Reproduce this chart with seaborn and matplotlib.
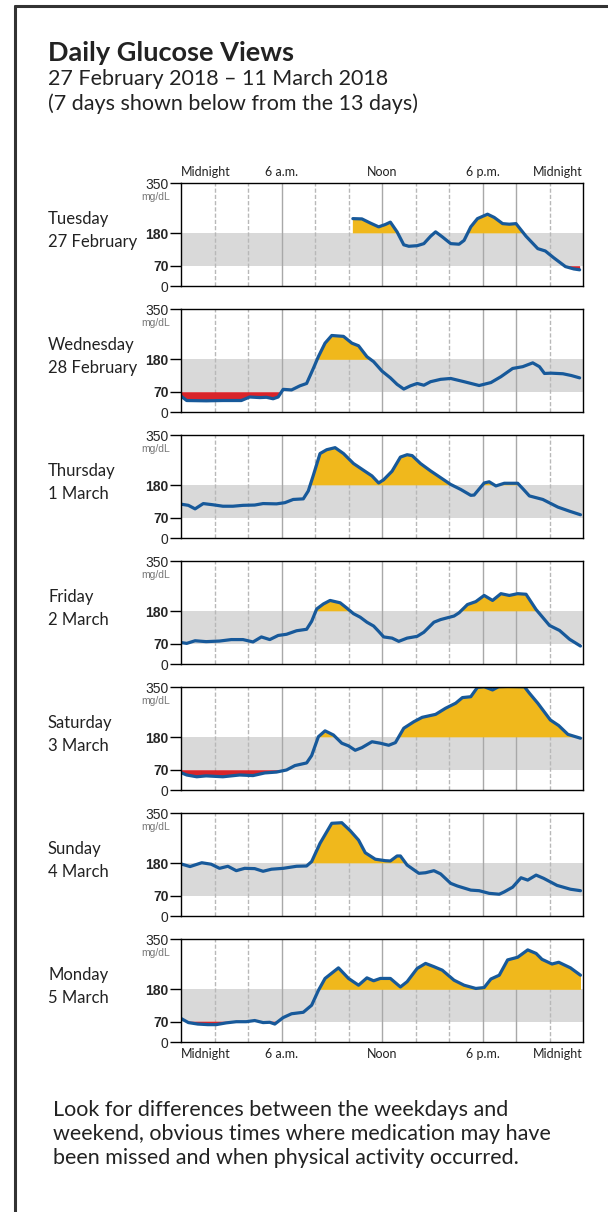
import numpy as np
import matplotlib.pyplot as plt
import seaborn as sns
from matplotlib.lines import Line2D
from matplotlib.transforms import blended_transform_factory

# Setting up the template
sns.set_style('white')
plt.rcParams['font.family'] = ['Lato', 'DejaVu Sans']

W, H = 608, 1212

day_names = ['Tuesday', 'Wednesday', 'Thursday', 'Friday', 'Saturday', 'Sunday', 'Monday']
day_dates = ['27 February', '28 February', '1 March', '2 March', '3 March', '4 March', '5 March']
time_labels = ['Midnight', '6 a.m.', 'Noon', '6 p.m.', 'Midnight']
y_ticks = [0, 70, 180, 350]

# glucose readings (hour of day, mg/dL)
tue_hours = [10.26, 10.8, 11.3, 11.8, 12.2, 12.5, 12.9, 13.3, 13.6, 14.1, 14.5, 14.9, 15.2, 15.6, 16.1,
             16.6, 16.9, 17.3, 17.7, 18.3, 18.7, 19.2, 19.6, 20.0, 20.6, 21.3, 21.75, 22.25, 22.95, 23.45, 23.8]
tue_glucose = [230, 229, 215, 202, 210, 218, 185, 141, 136, 138, 145, 170, 185, 168, 145,
               143, 156, 202, 230, 245, 234, 213, 211, 213, 170, 128, 120, 97, 67, 59, 56]

wed_hours = [0, 0.34, 1.5, 2.5, 3.6, 4.1, 4.7, 5.1, 5.5, 5.8, 6.1, 6.6, 7.1, 7.5, 7.9, 8.2, 8.6, 9.0, 9.7,
             10.2, 10.6, 11.1, 11.5, 12.0, 12.5, 12.9, 13.3, 13.7, 14.1, 14.5, 14.9, 15.5, 16.1, 16.9,
             17.8, 18.5, 19.1, 19.8, 20.4, 21.0, 21.4, 21.7, 22.1, 22.8, 23.3, 23.8]
wed_glucose = [55, 40, 39, 40, 40, 52, 50, 51, 46, 52, 78, 76, 90, 98, 149, 189, 235, 261, 258,
               235, 226, 189, 172, 140, 117, 95, 79, 90, 98, 92, 104, 112, 115, 104,
               91, 101, 121, 149, 155, 168, 155, 132, 133, 131, 125, 117]

thu_hours = [0, 0.44, 0.84, 1.33, 1.9, 2.5, 3.1, 3.7, 4.4, 4.9, 5.7, 6.2, 6.7, 7.3, 7.6, 7.9, 8.3, 8.7,
             9.2, 9.7, 10.3, 10.9, 11.4, 11.8, 12.1, 12.6, 13.1, 13.5, 13.8, 14.3, 14.9, 15.5, 16.1,
             16.7, 17.3, 17.5, 18.1, 18.4, 18.8, 19.3, 20.1, 20.4, 20.8, 21.6, 22.5, 23.2, 23.85]
thu_glucose = [116, 112, 100, 118, 114, 109, 109, 112, 113, 118, 117, 121, 132, 134, 161, 214, 288, 301,
               308, 288, 254, 231, 212, 188, 199, 228, 276, 284, 281, 254, 229, 206, 183,
               166, 146, 147, 188, 192, 178, 187, 187, 169, 144, 132, 106, 92, 80]

fri_hours = [0, 0.34, 0.84, 1.5, 2.3, 3.0, 3.7, 4.3, 4.8, 5.3, 5.8, 6.3, 6.9, 7.5, 7.8, 8.1, 8.5, 8.9,
             9.5, 9.9, 10.3, 10.7, 11.1, 11.5, 11.8, 12.1, 12.6, 13.0, 13.5, 14.1, 14.5, 15.1, 15.5,
             16.3, 16.6, 17.1, 17.6, 18.1, 18.6, 19.1, 19.6, 20.1, 20.6, 21.2, 22.0, 22.6, 23.2, 23.85]
fri_glucose = [74, 71, 80, 77, 79, 84, 84, 76, 93, 84, 98, 102, 114, 119, 146, 188, 205, 217,
               209, 191, 172, 160, 143, 130, 112, 93, 89, 78, 89, 95, 109, 143, 152,
               164, 175, 203, 213, 234, 217, 240, 234, 240, 238, 186, 132, 115, 85, 62]

sat_hours = [0, 0.34, 0.94, 1.5, 2.5, 3.5, 4.3, 5.0, 5.7, 6.3, 6.8, 7.5, 7.8, 8.2, 8.6, 9.1, 9.6, 10.0,
             10.4, 10.8, 11.4, 11.9, 12.4, 12.8, 13.3, 13.9, 14.4, 15.2, 15.8, 16.4, 16.8, 17.3, 17.7,
             18.1, 18.6, 18.96, 19.5, 20.5, 20.8, 21.3, 22.05, 22.55, 23.1, 23.85]
sat_glucose = [60, 52, 46, 49, 46, 52, 50, 59, 62, 69, 84, 93, 118, 182, 202, 188, 160, 151,
               136, 145, 165, 160, 153, 162, 211, 233, 248, 258, 279, 296, 315, 318, 350,
               352, 341, 352, 353, 352, 330, 296, 239, 220, 190, 177]

sun_hours = [0, 0.54, 1.24, 1.8, 2.3, 2.8, 3.3, 3.8, 4.4, 4.9, 5.4, 6.1, 6.9, 7.5, 7.8, 8.3, 9.0, 9.6,
             10.1, 10.6, 11.0, 11.6, 12.2, 12.5, 12.9, 13.1, 13.5, 14.2, 14.6, 15.1, 15.5, 16.1, 16.5,
             17.3, 17.8, 18.4, 19.0, 19.3, 19.8, 20.3, 20.7, 21.2, 21.65, 22.45, 23.25, 23.85]
sun_glucose = [178, 169, 182, 177, 163, 170, 155, 163, 162, 153, 160, 163, 170, 171, 186, 248, 316, 318,
               291, 259, 216, 194, 189, 188, 205, 205, 174, 146, 148, 155, 144, 112, 103,
               89, 87, 78, 75, 83, 99, 131, 123, 140, 129, 105, 92, 87]

mon_hours = [0, 0.44, 1.0, 1.6, 2.1, 2.7, 3.3, 3.9, 4.4, 4.9, 5.3, 5.6, 6.1, 6.6, 7.3, 7.8, 8.2, 8.6,
             9.4, 10.0, 10.6, 11.1, 11.5, 11.9, 12.5, 13.1, 13.5, 14.1, 14.6, 15.1, 15.6, 16.3, 16.9,
             17.6, 18.1, 18.5, 19.0, 19.5, 20.1, 20.7, 21.2, 21.55, 22.15, 22.55, 23.25, 23.85]
mon_glucose = [81, 67, 62, 60, 60, 66, 70, 70, 74, 67, 68, 62, 84, 97, 102, 126, 176, 217,
               253, 217, 194, 219, 209, 217, 217, 188, 206, 251, 268, 257, 245, 211, 194,
               183, 186, 215, 228, 280, 289, 314, 302, 282, 266, 272, 253, 228]

all_hours = [tue_hours, wed_hours, thu_hours, fri_hours, sat_hours, sun_hours, mon_hours]
all_glucose = [tue_glucose, wed_glucose, thu_glucose, fri_glucose, sat_glucose, sun_glucose, mon_glucose]

line_color = '#17599a'
high_color = '#f0b81c'
low_color = '#d8242a'
band_color = '#d9d9d9'

fig = plt.figure(figsize=(W / 100, H / 100), dpi=100)

def fy(px):
    return 1 - px / H

def fx(px):
    return px / W

# outer frame (left and top edges)
fig.add_artist(Line2D([fx(15), fx(15)], [0, fy(6)], color='#333333', lw=2.2))
fig.add_artist(Line2D([fx(15), 1], [fy(6), fy(6)], color='#333333', lw=2.2))

# header text
fig.text(fx(48), fy(53), 'Daily Glucose Views', fontsize=19.5, fontweight='bold', color='#222222', va='center')
fig.text(fx(48), fy(79), '27 February 2018 \u2013 11 March 2018', fontsize=15.5, color='#222222', va='center')
fig.text(fx(48), fy(104), '(7 days shown below from the 13 days)', fontsize=15.5, color='#222222', va='center')

ax_left, ax_right = 181, 583
panel_h = 103
for i in range(7):
    top = 183.3 + 126 * i
    ax = fig.add_axes([fx(ax_left), fy(top + panel_h), (ax_right - ax_left) / W, panel_h / H])
    h = np.array(all_hours[i])
    v = np.array(all_glucose[i])

    ax.axhspan(70, 180, color=band_color, zorder=0, lw=0)
    for g in range(2, 24, 2):
        if g % 6 == 0 or g == 20:
            ax.axvline(g, color='#a8a8a8', lw=1.0, zorder=1)
        else:
            ax.axvline(g, color='#b8b8b8', lw=1.0, ls=(0, (3, 1.5)), zorder=1)

    ax.fill_between(h, v, 180, where=v > 180, interpolate=True, color=high_color, lw=0, zorder=2)
    ax.fill_between(h, v, 70, where=v < 70, interpolate=True, color=low_color, lw=0, zorder=2)
    sns.lineplot(x=h, y=v, ax=ax, color=line_color, linewidth=2.3, zorder=3)

    ax.set_xlim(0, 24)
    ax.set_ylim(0, 350)
    ax.set_xlabel('')
    ax.set_ylabel('')
    for s in ax.spines.values():
        s.set_color('black')
        s.set_linewidth(1.0)
        s.set_zorder(4)

    ax.set_yticks(y_ticks)
    ax.set_yticklabels([str(t) for t in y_ticks], family='Liberation Sans', fontsize=10)
    for lab, t in zip(ax.get_yticklabels(), y_ticks):
        if t in (70, 180):
            lab.set_fontweight('bold')
    ax.tick_params(axis='y', length=8, width=1, color='black', pad=1, left=True)
    trans = blended_transform_factory(ax.transAxes, ax.transData)
    ax.text(-0.027, 302, 'mg/dL', transform=trans, ha='right', va='center', fontsize=7.5,
            family='Liberation Sans', color='#777777')

    ax.set_xticks([0, 6, 12, 18, 24])
    if i == 0:
        ax.xaxis.tick_top()
        ax.set_xticklabels(time_labels, fontsize=9, color='#222222')
        ax.tick_params(axis='x', length=0, pad=4)
    elif i == 6:
        ax.set_xticklabels(time_labels, fontsize=9, color='#222222')
        ax.tick_params(axis='x', length=0, pad=4)
    else:
        ax.tick_params(axis='x', length=0, labelbottom=False)
    if i in (0, 6):
        labs = ax.get_xticklabels()
        labs[0].set_ha('left')
        labs[-1].set_ha('right')

    fig.text(fx(48), fy(top + 36), day_names[i], fontsize=12, color='#222222', va='center')
    fig.text(fx(48), fy(top + 59), day_dates[i], fontsize=12, color='#222222', va='center')

footer = ['Look for differences between the weekdays and',
          'weekend, obvious times where medication may have',
          'been missed and when physical activity occurred.']
for k, line in enumerate(footer):
    fig.text(fx(53), fy(1110 + 24 * k), line, fontsize=15.5, color='#222222', va='center')

plt.savefig('out.png', dpi=100)
